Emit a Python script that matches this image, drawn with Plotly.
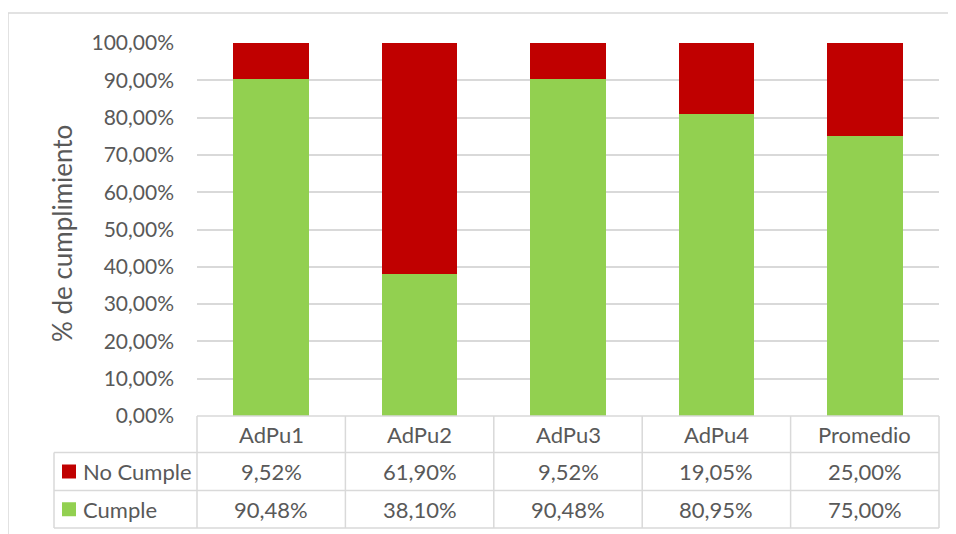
import plotly.graph_objects as go

categories = ["AdPu1", "AdPu2", "AdPu3", "AdPu4", "Promedio"]
cumple = [0.9048, 0.3810, 0.9048, 0.8095, 0.7500]
no_cumple = [0.0952, 0.6190, 0.0952, 0.1905, 0.2500]
y_ticks = [i / 10 for i in range(11)]
y_title = "% de cumplimiento"

RED = "#c00000"
GREEN = "#92d050"
GRID = "#d9d9d9"
TXT = "#595959"
FONT = "Lato"
TICK_FS = 21
CELL_FS = 22
TITLE_FS = 26

W, H = 956, 534
OFF = 8  # page body margin offset
L, R, T, B = 197 - OFF, 939 - OFF, 43 - OFF, 416 - OFF


def px(x):
    return (x - OFF - L) / (R - L)


def py(y):
    return (B - (y - OFF)) / (B - T)


def fmt(v):
    return f"{v*100:.2f}%".replace(".", ",")


fig = go.Figure()
fig.add_trace(go.Bar(x=categories, y=cumple, name="Cumple", marker=dict(color=GREEN, line=dict(width=0))))
fig.add_trace(go.Bar(x=categories, y=no_cumple, name="No Cumple", marker=dict(color=RED, line=dict(width=0))))

shapes = []
annotations = []
lw = 1.5

# outer chart border (reference pixel coords)
shapes.append(dict(type="rect", xref="paper", yref="paper", x0=px(8), x1=px(W + 20), y0=py(13), y1=py(H + 20),
                   line=dict(color=GRID, width=lw), layer="below"))

n = len(categories)
x_left, x_right = 197, 939
col_w = (x_right - x_left) / n
rows_y = [416, 452.5, 490.5, 528]
leg_x0 = 54

shapes.append(dict(type="line", xref="paper", yref="paper", x0=px(x_left), x1=px(x_right), y0=py(rows_y[0]), y1=py(rows_y[0]),
                   line=dict(color=GRID, width=lw)))
for yv in rows_y[1:]:
    shapes.append(dict(type="line", xref="paper", yref="paper", x0=px(leg_x0), x1=px(x_right), y0=py(yv), y1=py(yv),
                       line=dict(color=GRID, width=lw)))
shapes.append(dict(type="line", xref="paper", yref="paper", x0=px(leg_x0), x1=px(leg_x0), y0=py(rows_y[1]), y1=py(rows_y[-1]),
                   line=dict(color=GRID, width=lw)))
for i in range(n + 1):
    xv = x_left + i * col_w
    shapes.append(dict(type="line", xref="paper", yref="paper", x0=px(xv), x1=px(xv), y0=py(rows_y[0]), y1=py(rows_y[-1]),
                       line=dict(color=GRID, width=lw)))


def cell_text(x, y, text, anchor="center", size=CELL_FS, angle=0):
    annotations.append(dict(xref="paper", yref="paper", x=px(x), y=py(y), text=text, showarrow=False,
                            xanchor=anchor, yanchor="middle", textangle=angle,
                            font=dict(family=FONT, size=size, color=TXT)))


for i, c in enumerate(categories):
    cell_text(x_left + (i + 0.5) * col_w, (rows_y[0] + rows_y[1]) / 2, c)

rows = [("No Cumple", no_cumple, RED), ("Cumple", cumple, GREEN)]
for r, (name, vals, col) in enumerate(rows):
    yc = (rows_y[r + 1] + rows_y[r + 2]) / 2
    shapes.append(dict(type="rect", xref="paper", yref="paper", x0=px(62), x1=px(76), y0=py(yc - 7), y1=py(yc + 7),
                       line=dict(width=0), fillcolor=col))
    cell_text(81, yc, name, anchor="left")
    for i, v in enumerate(vals):
        cell_text(x_left + (i + 0.5) * col_w, yc, fmt(v))

cell_text(62, 234, y_title, size=TITLE_FS, angle=-90)

fig.update_layout(
    width=W, height=H,
    margin=dict(l=L, r=W - R, t=T, b=H - B),
    barmode="stack", bargap=0.49,
    showlegend=False,
    plot_bgcolor="white", paper_bgcolor="white",
    separators=",.",
    shapes=shapes, annotations=annotations,
    font=dict(family=FONT, size=CELL_FS, color=TXT),
)
fig.update_xaxes(showticklabels=False, showgrid=False, zeroline=False, showline=False, ticks="")
fig.update_yaxes(range=[0, 1], tickvals=y_ticks, tickformat=".2%", showgrid=True, gridcolor=GRID, gridwidth=lw,
                 zeroline=False, showline=False, ticks="", ticklabelstandoff=22,
                 tickfont=dict(family=FONT, size=TICK_FS, color=TXT))

fig.write_html("out.html")
